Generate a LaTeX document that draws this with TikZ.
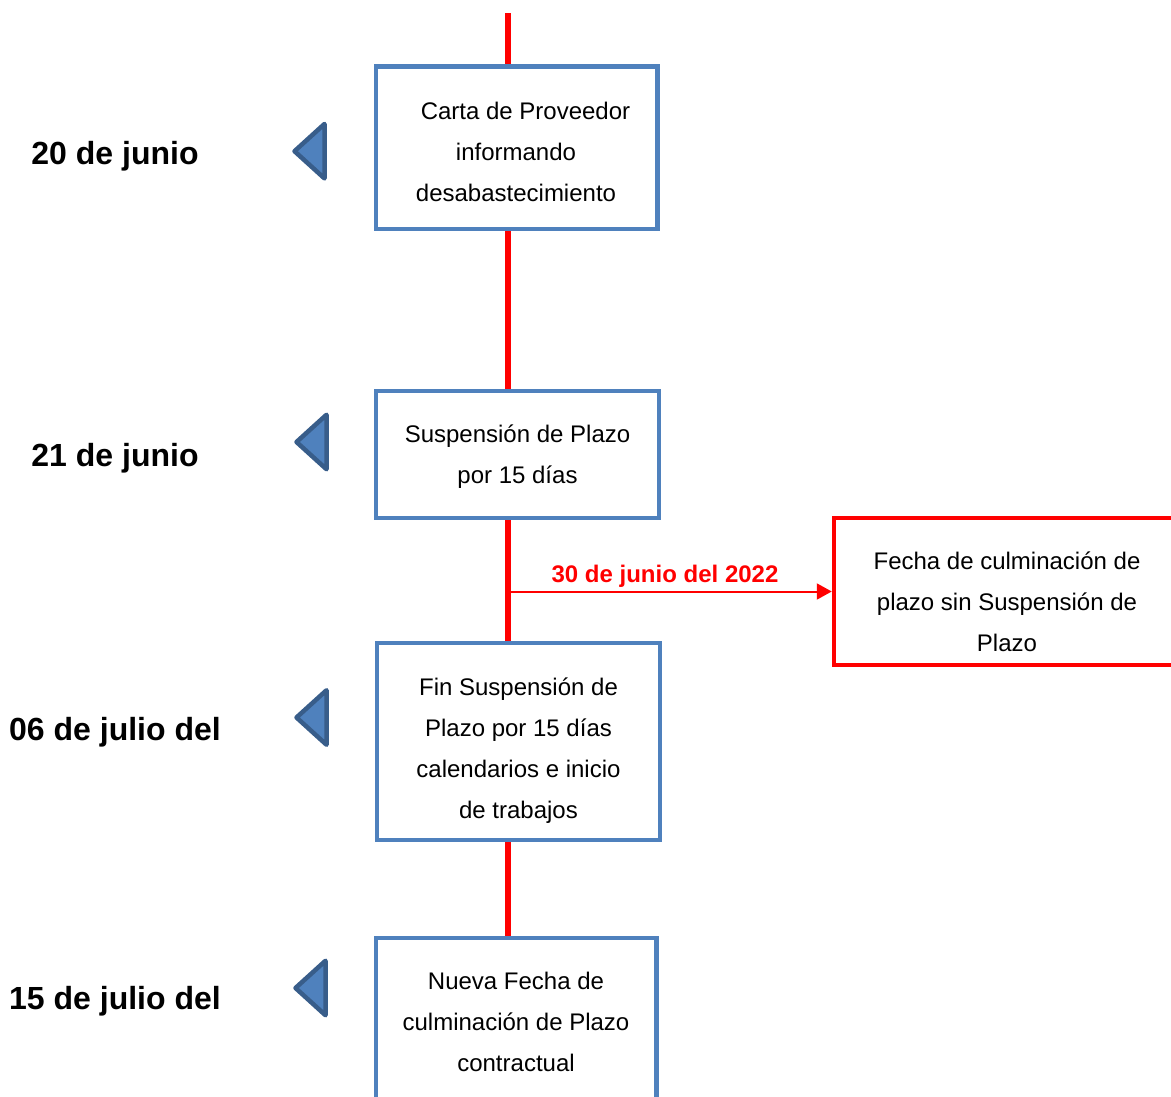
\documentclass[tikz,border=0pt]{standalone}
\usepackage{fontspec}
\setmainfont{Liberation Sans}
\usetikzlibrary{arrows.meta}
\definecolor{boxblue}{RGB}{79,129,189}
\definecolor{tridark}{RGB}{56,93,138}
\definecolor{tlred}{RGB}{255,0,0}
\newcommand\lnstrut{\rule[-13pt]{0pt}{41pt}}
\tikzset{
  datemark/.pic={\draw[fill=boxblue, draw=tridark, line width=4.5pt, line join=round]
      (0,-27.25) -- (0,27.25) -- (-30,0) -- cycle;},
}
\begin{document}
\begin{tikzpicture}[x=1pt,y=-1pt,
  eventbox/.style={draw=boxblue, line width=4.5pt, fill=white, inner sep=0pt},
  redbox/.style={draw=tlred, line width=4.5pt, fill=white, inner sep=0pt},
  boxtext/.style={align=center, inner sep=0pt, font=\fontsize{24}{41}\selectfont},
  datelabel/.style={anchor=base, inner sep=0pt, font=\fontsize{32}{38}\selectfont\bfseries},
  timeline/.style={draw=tlred, line width=6.5pt},
  branch/.style={draw=tlred, line width=2pt, -{Triangle[length=15pt,width=16pt]}},
  redlabel/.style={anchor=base, inner sep=0pt, text=tlred, font=\fontsize{24}{28}\selectfont\bfseries}
]
\useasboundingbox (0,0) rectangle (1171,1097);
\clip (0,0) rectangle (1171,1097);
\fill[white] (0,0) rectangle (1171,1097);

% boxes
\node[eventbox, minimum width=281.7pt, minimum height=162.5pt] (b1) at (516.6,147.7) {};
\node[eventbox, minimum width=283pt, minimum height=127pt] (b2) at (517.5,454.5) {};
\node[eventbox, minimum width=283pt, minimum height=197pt] (b3) at (518.5,741.5) {};
\node[eventbox, minimum width=280.7pt, minimum height=177pt] (b4) at (516.2,1026.5) {};
\node[redbox, minimum width=346pt, minimum height=147pt] (rb) at (1007,591.5) {};

% timeline
\coordinate (top) at (508,13.5);
\draw[timeline] (top) -- (top |- b1.north);
\draw[timeline] (top |- b1.south) -- (top |- b2.north);
\draw[timeline] (top |- b2.south) -- (top |- b3.north);
\draw[timeline] (top |- b3.south) -- (top |- b4.north);

% branch arrow
\coordinate (fork) at (511,591.5);
\draw[branch] (fork) -- (rb.west);
\node[redlabel] (lbl) at (665,582.5) {30 de junio del 2022};

% box texts
\node[boxtext] (t1) at (516,152.5) {\hspace*{19pt}\lnstrut Carta de Proveedor\\ \lnstrut informando\\ \lnstrut desabastecimiento};
\node[boxtext] (t2) at (517.5,455.5) {\lnstrut Suspensión de Plazo\\ \lnstrut por 15 días};
\node[boxtext] (t3) at (518.5,749.5) {\lnstrut Fin Suspensión de\\ \lnstrut Plazo por 15 días\\ \lnstrut calendarios e inicio\\ \lnstrut de trabajos};
\node[boxtext] (t4) at (516,1022.8) {\lnstrut Nueva Fecha de\\ \lnstrut culminación de Plazo\\ \lnstrut contractual};
\node[boxtext] (t5) at (1007,602.5) {\lnstrut Fecha de culminación de\\ \lnstrut plazo sin Suspensión de\\ \lnstrut Plazo};

% date markers
\pic at (324.5,151.2) {datemark};
\pic at (326.5,442) {datemark};
\pic at (326.5,717.5) {datemark};
\pic at (325.5,988) {datemark};

% date labels
\node[datelabel] (d1) at (115,165) {20 de junio};
\node[datelabel] (d2) at (115,466) {21 de junio};
\node[datelabel] (d3) at (115,740) {06 de julio del};
\node[datelabel] (d4) at (115,1009) {15 de julio del};
\end{tikzpicture}
\end{document}
